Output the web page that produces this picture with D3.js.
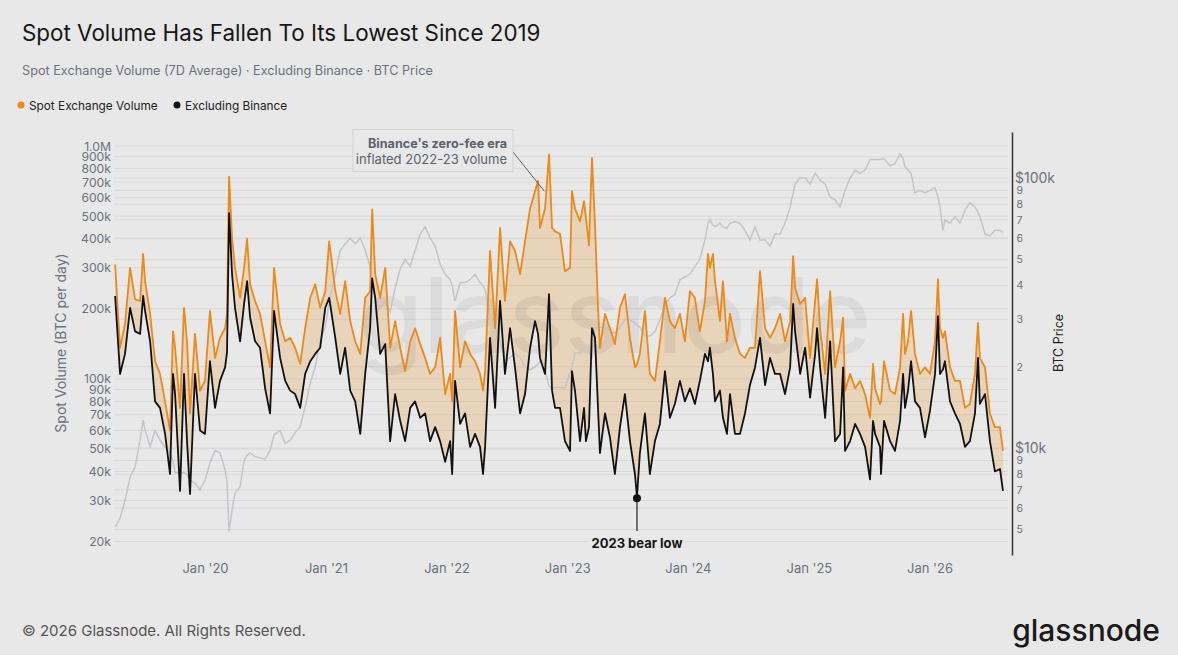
<!DOCTYPE html>
<html>
<head>
<meta charset="utf-8">
<script src="https://cdn.jsdelivr.net/npm/d3@7"></script>
<style>
  body { margin: 0; background: #e8e8e8; }
  svg { display: block; font-family: Inter, "Noto Sans", sans-serif; }
</style>
</head>
<body>
<div id="vis"></div>
<script>
const FRAME_WIDTH = 1178;
const FRAME_HEIGHT = 655;
const PLOT = {left: 114, right: 1008, top: 132, bottom: 555};

// dates as decimal years
const years = [
  2019.255, 2019.296, 2019.337, 2019.379, 2019.420, 2019.462, 2019.487, 2019.503, 2019.545, 2019.586,
  2019.627, 2019.669, 2019.710, 2019.735, 2019.752, 2019.793, 2019.826, 2019.851, 2019.876, 2019.917,
  2019.959, 2020.000, 2020.041, 2020.083, 2020.124, 2020.166, 2020.182, 2020.199, 2020.224, 2020.248,
  2020.290, 2020.323, 2020.348, 2020.373, 2020.414, 2020.455, 2020.497, 2020.538, 2020.571, 2020.621,
  2020.663, 2020.704, 2020.745, 2020.787, 2020.828, 2020.870, 2020.911, 2020.952, 2020.994, 2021.027,
  2021.077, 2021.118, 2021.159, 2021.201, 2021.242, 2021.284, 2021.325, 2021.366, 2021.383, 2021.408,
  2021.449, 2021.491, 2021.532, 2021.573, 2021.615, 2021.656, 2021.698, 2021.739, 2021.781, 2021.822,
  2021.863, 2021.905, 2021.946, 2021.988, 2022.029, 2022.046, 2022.070, 2022.112, 2022.153, 2022.195,
  2022.236, 2022.277, 2022.302, 2022.319, 2022.360, 2022.402, 2022.443, 2022.484, 2022.526, 2022.567,
  2022.609, 2022.650, 2022.692, 2022.733, 2022.758, 2022.774, 2022.816, 2022.849, 2022.874, 2022.899,
  2022.940, 2022.981, 2023.023, 2023.039, 2023.064, 2023.106, 2023.139, 2023.155, 2023.180, 2023.205,
  2023.230, 2023.255, 2023.271, 2023.313, 2023.354, 2023.395, 2023.437, 2023.478, 2023.520, 2023.561,
  2023.578, 2023.602, 2023.644, 2023.685, 2023.727, 2023.768, 2023.810, 2023.851, 2023.892, 2023.934,
  2023.975, 2024.017, 2024.058, 2024.099, 2024.141, 2024.166, 2024.182, 2024.207, 2024.224, 2024.265,
  2024.290, 2024.323, 2024.348, 2024.389, 2024.431, 2024.472, 2024.513, 2024.555, 2024.596, 2024.638,
  2024.679, 2024.720, 2024.762, 2024.803, 2024.845, 2024.870, 2024.886, 2024.928, 2024.969, 2025.010,
  2025.052, 2025.068, 2025.093, 2025.135, 2025.176, 2025.217, 2025.259, 2025.284, 2025.300, 2025.342,
  2025.383, 2025.424, 2025.466, 2025.507, 2025.532, 2025.549, 2025.590, 2025.598, 2025.623, 2025.673,
  2025.714, 2025.756, 2025.781, 2025.797, 2025.822, 2025.847, 2025.880, 2025.921, 2025.963, 2026.004,
  2026.046, 2026.070, 2026.087, 2026.112, 2026.128, 2026.170, 2026.211, 2026.253, 2026.294, 2026.335,
  2026.377, 2026.402, 2026.418, 2026.460, 2026.501, 2026.542, 2026.584, 2026.609
];

// spot exchange volume, 7D avg (k BTC per day)
const spotVolume = [
  310, 136, 172, 300, 220, 216, 344, 263, 190, 119,
  105, 80, 60, 160, 136, 75, 202, 145, 71, 156,
  89, 98, 196, 123, 150, 165, 190, 740, 400, 300,
  223, 300, 400, 255, 216, 190, 145, 112, 300, 172,
  145, 150, 136, 116, 165, 223, 255, 202, 238, 390,
  240, 190, 263, 177, 145, 128, 223, 238, 535, 282,
  223, 300, 136, 177, 136, 108, 145, 165, 141, 123,
  105, 112, 150, 86, 105, 80, 196, 112, 145, 128,
  119, 105, 89, 108, 355, 165, 445, 216, 390, 355,
  282, 390, 540, 640, 710, 445, 540, 920, 445, 430,
  420, 290, 300, 640, 540, 475, 580, 490, 375, 890,
  460, 202, 136, 190, 165, 141, 202, 231, 150, 112,
  115, 128, 196, 105, 98, 145, 223, 177, 165, 190,
  145, 238, 223, 160, 216, 344, 300, 344, 263, 177,
  263, 145, 190, 150, 128, 123, 136, 136, 290, 165,
  150, 165, 190, 145, 177, 337, 245, 210, 223, 123,
  216, 268, 165, 105, 238, 112, 145, 183, 89, 105,
  91, 98, 86, 68, 116, 91, 78, 80, 119, 89,
  86, 112, 190, 128, 145, 196, 128, 105, 112, 105,
  145, 268, 165, 150, 160, 112, 98, 98, 75, 78,
  105, 174, 123, 112, 71, 62, 62, 49
];

// excluding Binance (k BTC per day)
const exBinance = [
  227, 105, 128, 202, 160, 156, 227, 196, 145, 80,
  75, 58, 39, 105, 86, 33, 105, 54, 32, 105,
  60, 58, 119, 75, 98, 112, 130, 515, 280, 202,
  145, 210, 263, 183, 145, 136, 91, 71, 196, 123,
  98, 89, 86, 75, 105, 119, 128, 136, 202, 223,
  150, 105, 136, 89, 80, 58, 105, 165, 270, 223,
  128, 141, 54, 86, 66, 54, 75, 80, 68, 71,
  54, 62, 54, 44, 54, 39, 98, 64, 71, 51,
  58, 51, 39, 51, 150, 75, 216, 105, 165, 112,
  71, 86, 136, 177, 156, 123, 105, 231, 89, 75,
  75, 54, 49, 108, 89, 54, 75, 54, 62, 165,
  150, 75, 48, 71, 56, 39, 62, 86, 54, 39,
  31, 48, 71, 39, 54, 64, 108, 68, 78, 98,
  80, 91, 78, 98, 128, 119, 136, 105, 80, 89,
  68, 58, 86, 58, 58, 71, 94, 112, 150, 94,
  123, 105, 105, 86, 112, 210, 160, 105, 136, 83,
  128, 165, 112, 68, 145, 54, 58, 112, 49, 54,
  64, 58, 51, 37, 66, 58, 51, 39, 66, 54,
  49, 66, 105, 75, 89, 119, 80, 75, 56, 73,
  105, 186, 105, 110, 119, 80, 71, 64, 51, 54,
  71, 123, 78, 86, 54, 40, 41, 33
];

// BTC price (k USD)
const btcPrice = [
  5.1, 5.5, 6.4, 7.8, 8.5, 10.7, 12.7, 11.7, 10.1, 11.6,
  10.7, 10.1, 9.6, 9.0, 8.1, 8.1, 8.1, 8.0, 7.6, 7.4,
  7.0, 7.6, 8.8, 9.8, 9.6, 8.3, 7.5, 4.9, 5.9, 6.8,
  7.2, 9.0, 9.4, 9.6, 9.3, 9.2, 9.1, 9.8, 11.2, 11.6,
  10.4, 10.7, 11.4, 12.0, 14.2, 17.4, 20, 25, 28, 35,
  44, 54, 57, 60, 57, 60, 54, 47, 42, 36,
  33, 35, 32, 39, 46, 50, 47, 54, 62, 66,
  60, 56, 48, 44, 42, 40, 35, 41, 41, 42,
  44, 41, 40, 38.5, 30, 28, 25, 21, 21.6, 22.5,
  21.6, 20, 19.5, 20, 20.5, 21, 19.5, 17, 16.5, 16.8,
  16.8, 16.7, 19, 20, 22.5, 22.5, 23.5, 23.7, 22.5, 21.7,
  28, 28, 28, 28, 27, 26.7, 28, 30, 29.8, 29,
  28.5, 28, 26, 26, 27, 29.8, 34, 36, 37, 42,
  43, 44, 47, 50, 59, 68, 70, 67, 66, 68,
  66, 65, 68, 69, 68, 64, 59, 66, 59, 59,
  56, 62, 62, 68, 78, 88, 95, 100, 100, 95,
  104, 102, 98, 95, 85, 83, 78, 85, 90, 100,
  107, 104, 107, 117, 117, 117, 117, 117, 118, 111,
  113, 123, 118, 110, 107, 104, 88, 90, 88, 90,
  92, 85, 78, 64, 70, 68, 72, 68, 76, 81,
  78, 75, 72, 62, 61, 64, 64, 63
];

const volumeTicks = [20, 30, 40, 50, 60, 70, 80, 90, 100, 200, 300, 400, 500, 600, 700, 800, 900, 1000];
const priceTicks = [5, 6, 7, 8, 9, 10, 20, 30, 40, 50, 60, 70, 80, 90, 100];
const yearTicks = [2020, 2021, 2022, 2023, 2024, 2025, 2026];

const ORANGE = "#ea8a1a";
const LABEL = "#6b7280";

function yearToDate(t) {
  const y = Math.floor(t);
  const a = new Date(y, 0, 1), b = new Date(y + 1, 0, 1);
  return new Date(+a + (t - y) * (b - a));
}

const data = years.map((t, i) => ({
  date: yearToDate(t),
  spot: spotVolume[i],
  ex: exBinance[i],
  price: btcPrice[i]
}));

const svg = d3.select("#vis")
  .append("svg")
    .attr("width", FRAME_WIDTH)
    .attr("height", FRAME_HEIGHT);

svg.append("rect")
  .attr("width", FRAME_WIDTH).attr("height", FRAME_HEIGHT)
  .attr("fill", "#e8e8e8");

const xScale = d3.scaleTime()
  .domain([new Date(2020, 0, 1), new Date(2026, 0, 1)])
  .range([205, 929.5]);
const yScale = d3.scaleLog()
  .domain([17.5, 1150])
  .range([PLOT.bottom, PLOT.top]);
const pScale = d3.scaleLog()
  .domain([4.02, 148])
  .range([PLOT.bottom, PLOT.top]);

// header
svg.append("text")
  .attr("x", 22).attr("y", 41)
  .attr("font-size", 22.4).attr("fill", "#161616")
  .text("Spot Volume Has Fallen To Its Lowest Since 2019");
svg.append("text")
  .attr("x", 22).attr("y", 75)
  .attr("font-size", 12.7).attr("fill", LABEL)
  .text("Spot Exchange Volume (7D Average) · Excluding Binance · BTC Price");

const legend = [
  {label: "Spot Exchange Volume", color: ORANGE, x: 21},
  {label: "Excluding Binance", color: "#111", x: 177}
];
legend.forEach(d => {
  svg.append("circle").attr("cx", d.x).attr("cy", 105).attr("r", 3.5).attr("fill", d.color);
  svg.append("text")
    .attr("x", d.x + 8).attr("y", 109.5)
    .attr("font-size", 11.8).attr("fill", "#222")
    .text(d.label);
});

// gridlines
const grid = svg.append("g").attr("stroke", "#d9d9d9").attr("stroke-width", 1);
volumeTicks.forEach(v => {
  grid.append("line")
    .attr("x1", PLOT.left).attr("x2", PLOT.right)
    .attr("y1", yScale(v)).attr("y2", yScale(v));
});
priceTicks.forEach(p => {
  grid.append("line")
    .attr("x1", PLOT.left).attr("x2", PLOT.right)
    .attr("y1", pScale(p)).attr("y2", pScale(p));
});

// left axis
const leftAxis = svg.append("g")
  .attr("transform", "translate(113,0)")
  .call(d3.axisLeft(yScale)
    .tickValues(volumeTicks)
    .tickSize(0)
    .tickPadding(2)
    .tickFormat(v => v >= 1000 ? (v / 1000).toFixed(1) + "M" : v + "k"));
leftAxis.select(".domain").remove();
leftAxis.selectAll("text")
  .attr("font-size", 12.2).attr("fill", LABEL)
  .attr("font-family", "Inter, 'Noto Sans', sans-serif");

svg.append("text")
  .attr("transform", "translate(66,343) rotate(-90)")
  .attr("text-anchor", "middle")
  .attr("font-size", 14).attr("fill", LABEL)
  .text("Spot Volume (BTC per day)");

// bottom axis
const bottomAxis = svg.append("g")
  .attr("transform", "translate(0,556)")
  .call(d3.axisBottom(xScale)
    .tickValues(yearTicks.map(y => new Date(y, 0, 1)))
    .tickSize(0)
    .tickPadding(8)
    .tickFormat(d => "Jan '" + String(d.getFullYear()).slice(2)));
bottomAxis.select(".domain").remove();
bottomAxis.selectAll("text")
  .attr("font-size", 13).attr("fill", LABEL)
  .attr("font-family", "Inter, 'Noto Sans', sans-serif");

// right axis
const rightAxis = svg.append("g")
  .attr("transform", "translate(1012,0)")
  .call(d3.axisRight(pScale)
    .tickValues(priceTicks)
    .tickSize(0)
    .tickPadding(3)
    .tickFormat(p => p === 10 || p === 100 ? "$" + p + "k" : String(p >= 10 ? p / 10 : p)));
rightAxis.select(".domain")
  .attr("stroke", "#333").attr("stroke-width", 1.5);
rightAxis.selectAll("text")
  .attr("fill", LABEL)
  .attr("font-family", "Inter, 'Noto Sans', sans-serif")
  .attr("font-size", p => p === 10 || p === 100 ? 14 : 10.5)
  .attr("dx", p => p === 10 || p === 100 ? 0 : 1.5);

svg.append("text")
  .attr("transform", "translate(1063,343) rotate(-90)")
  .attr("text-anchor", "middle")
  .attr("font-size", 12.5).attr("fill", "#222")
  .text("BTC Price");

// plot
svg.append("clipPath").attr("id", "plot-clip")
  .append("rect")
    .attr("x", PLOT.left).attr("y", PLOT.top)
    .attr("width", PLOT.right - PLOT.left).attr("height", PLOT.bottom - PLOT.top);

const plot = svg.append("g").attr("clip-path", "url(#plot-clip)");

plot.append("path")
  .datum(data)
  .attr("fill", ORANGE)
  .attr("fill-opacity", 0.22)
  .attr("d", d3.area()
    .x(d => xScale(d.date))
    .y0(d => yScale(d.ex))
    .y1(d => yScale(d.spot)));

plot.append("text")
  .attr("x", 615).attr("y", 353)
  .attr("text-anchor", "middle")
  .attr("font-size", 104).attr("font-weight", 500)
  .attr("fill", "#000").attr("fill-opacity", 0.055)
  .text("glassnode");

plot.append("path")
  .datum(data)
  .attr("fill", "none")
  .attr("stroke", "#c3c5ca")
  .attr("stroke-width", 1.5)
  .attr("d", d3.line().x(d => xScale(d.date)).y(d => pScale(d.price)));

plot.append("path")
  .datum(data)
  .attr("fill", "none")
  .attr("stroke", ORANGE)
  .attr("stroke-width", 1.8)
  .attr("stroke-linejoin", "round")
  .attr("d", d3.line().x(d => xScale(d.date)).y(d => yScale(d.spot)));

plot.append("path")
  .datum(data)
  .attr("fill", "none")
  .attr("stroke", "#111")
  .attr("stroke-width", 1.8)
  .attr("stroke-linejoin", "round")
  .attr("d", d3.line().x(d => xScale(d.date)).y(d => yScale(d.ex)));

// annotation: Binance zero-fee era
const feeAnchor = [xScale(yearToDate(2022.81)), yScale(640)];
svg.append("line")
  .attr("x1", 513).attr("y1", 152)
  .attr("x2", feeAnchor[0]).attr("y2", feeAnchor[1])
  .attr("stroke", "#5a6270").attr("stroke-width", 1);
svg.append("rect")
  .attr("x", 353).attr("y", 129.5)
  .attr("width", 160).attr("height", 42)
  .attr("fill", "#e8e8e8").attr("stroke", "#d2d2d2");
svg.append("text")
  .attr("x", 507).attr("y", 147.5)
  .attr("text-anchor", "end")
  .attr("font-size", 12.6).attr("font-weight", 700).attr("fill", "#5a6270")
  .text("Binance's zero-fee era");
svg.append("text")
  .attr("x", 507).attr("y", 164)
  .attr("text-anchor", "end")
  .attr("font-size", 13).attr("fill", "#5a6270")
  .text("inflated 2022-23 volume");

// annotation: 2023 bear low
const low = data.filter(d => d.date.getFullYear() === 2023)
  .reduce((a, b) => (b.ex < a.ex ? b : a));
const lowX = xScale(low.date), lowY = yScale(low.ex) + 1;
svg.append("line")
  .attr("x1", lowX).attr("x2", lowX)
  .attr("y1", lowY).attr("y2", 531)
  .attr("stroke", "#222").attr("stroke-width", 1.2);
svg.append("circle")
  .attr("cx", lowX).attr("cy", lowY).attr("r", 4)
  .attr("fill", "#111");
svg.append("rect")
  .attr("x", lowX - 48).attr("y", 534)
  .attr("width", 96).attr("height", 18)
  .attr("fill", "#e8e8e8");
svg.append("text")
  .attr("x", lowX).attr("y", 548)
  .attr("text-anchor", "middle")
  .attr("font-size", 13).attr("font-weight", 700).attr("fill", "#161616")
  .text("2023 bear low");

// footer
svg.append("text")
  .attr("x", 22).attr("y", 635.5)
  .attr("font-size", 15).attr("fill", "#555")
  .text("© 2026 Glassnode. All Rights Reserved.");
svg.append("text")
  .attr("x", 1160).attr("y", 641)
  .attr("text-anchor", "end")
  .attr("font-size", 30).attr("font-weight", 500).attr("fill", "#1a1a1a")
  .text("glassnode");
</script>
</body>
</html>
